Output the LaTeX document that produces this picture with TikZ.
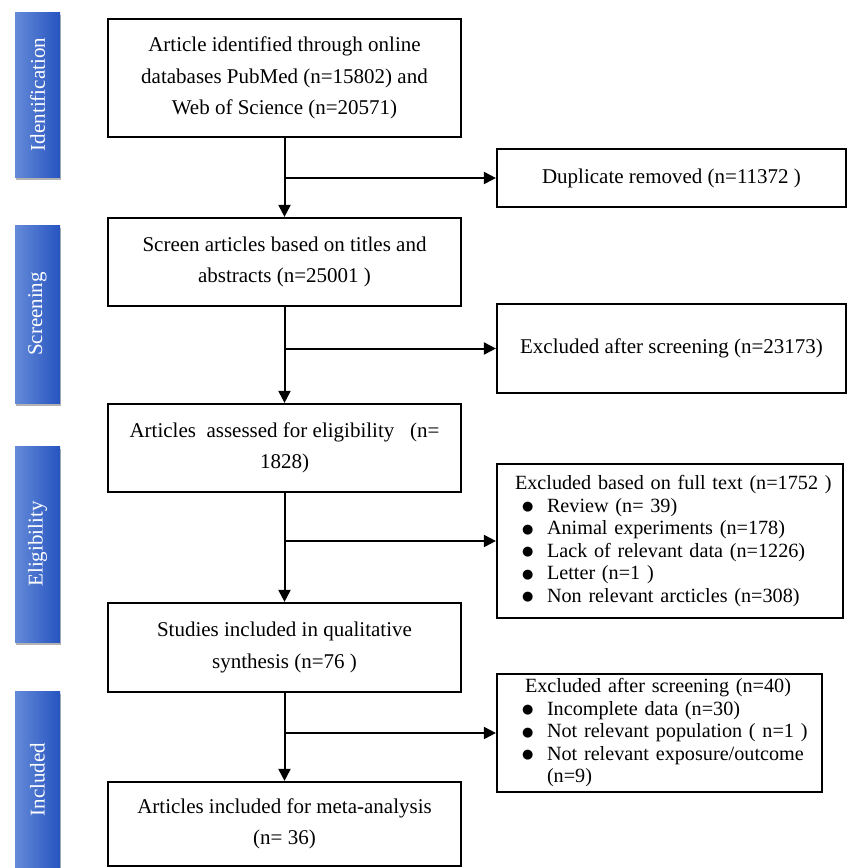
\documentclass[tikz,border=0pt]{standalone}
\usepackage{fontspec}
\setmainfont{Liberation Serif}
\newfontfamily\dotfont{DejaVu Sans}
\usepackage{xcolor}
\usetikzlibrary{arrows.meta,shadows}
\definecolor{barlight}{RGB}{100,138,216}
\definecolor{barmid}{RGB}{52,96,200}
\definecolor{bardark}{RGB}{38,84,192}
\tikzset{flowbox/.style={draw,line width=2.2pt,align=center,inner sep=0pt,minimum width=353pt,font=\fontsize{21}{31.5}\selectfont},
  listbox/.style={draw,line width=2.2pt,align=left,inner ysep=0pt,inner xsep=5pt,font=\fontsize{20.2}{22.5}\selectfont},
  sidebox/.style={rotate=90,minimum height=45pt,inner sep=0pt,text=white,left color=barlight,middle color=barmid,right color=bardark,
    drop shadow={shadow xshift=1pt,shadow yshift=-3pt,opacity=0.3,fill=black},font=\fontsize{21}{24}\selectfont}}
\newcommand{\itm}[1][20pt]{\hspace*{#1}\makebox[25pt][l]{\raisebox{1.5pt}{\dotfont\fontsize{13}{13}\selectfont ●}}}

\begin{document}
\begin{tikzpicture}[x=1pt,y=-1pt,>={Triangle[length=12pt,width=12pt]}]
    \useasboundingbox (0,0) rectangle (847,868);
    % phases on the left
    \foreach \yc/\len/\name/\lbl in {94.5/165/idbar/Identification,314/178/scrbar/Screening,544/196/eligbar/Eligibility,779.5/177/inclbar/Included} {
      \node[sidebox,minimum width=\len pt] (\name) at (37.5,\yc) {\lbl};
    }

    % main column
    \node[flowbox,minimum height=118pt] (ident) at (284.5,78) {Article identified through online\\databases PubMed (n=15802) and\\Web of Science (n=20571)};
    \node[flowbox,minimum height=88pt] (screen) at (284.5,262) {Screen articles based on titles and\\abstracts (n=25001 )};
    \node[flowbox,minimum height=88pt] (elig) at (284.5,448) {Articles~ assessed for eligibility~~ (n=\\1828)};
    \node[flowbox,minimum height=89pt] (quali) at (284.5,647.5) {Studies included in qualitative\\synthesis (n=76 )};
    \node[flowbox,minimum height=84pt] (meta) at (284.5,824) {Articles included for meta-analysis\\(n= 36)};

    % exclusions on the right
    \node[flowbox,minimum width=349pt,minimum height=58pt] (dup) at (671.5,178) {Duplicate removed (n=11372 )};
    \node[flowbox,minimum width=349pt,minimum height=89pt] (exscr) at (671.5,348.5) {Excluded after screening (n=23173)};
    \node[listbox,minimum height=154pt,text width=336pt] (exfull) at (670,541) {\mbox{\hspace*{13pt}Excluded based on full text (n=1752 )}\\
      \itm Review (n= 39)\\
      \itm Animal experiments (n=178)\\
      \itm Lack of relevant data (n=1226)\\
      \itm Letter (n=1 )\\
      \itm Non relevant arcticles (n=308)};
    \node[listbox,minimum height=118pt,text width=315pt] (exmeta) at (659.5,733) {\mbox{\hspace*{23pt}Excluded after screening (n=40)}\\
      \itm Incomplete data (n=30)\\
      \itm \mbox{Not relevant population ( n=1 )}\\
      \itm \mbox{Not relevant exposure/outcome}\\
      \hspace*{45pt}(n=9)};

    % arrows
    \foreach \a/\b/\c in {ident/screen/dup,screen/elig/exscr,elig/quali/exfull,quali/meta/exmeta} {
      \draw[->,line width=2pt] (\a) -- (\b);
      \draw[->,line width=2pt] (\a.south |- \c.west) -- (\c.west);
    }
  \end{tikzpicture}
\end{document}
